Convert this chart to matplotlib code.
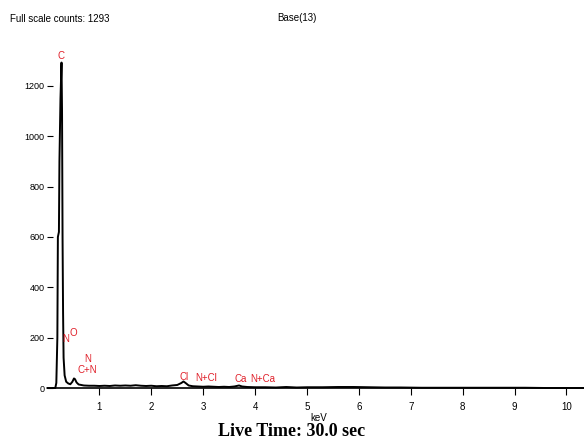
import numpy as np
import matplotlib.pyplot as plt

# EDS spectrum
energy = [0.00, 0.15, 0.17, 0.19, 0.20, 0.22, 0.23, 0.25, 0.27, 0.28, 0.29, 0.30,
          0.31, 0.33, 0.36, 0.40, 0.44, 0.48, 0.51, 0.53, 0.56, 0.60, 0.70, 0.80,
          0.90, 1.00, 1.10, 1.20, 1.30, 1.40, 1.50, 1.60, 1.70, 1.80, 1.90, 2.00,
          2.10, 2.20, 2.30, 2.40, 2.50, 2.58, 2.62, 2.66, 2.72, 2.80, 2.90, 3.00,
          3.10, 3.20, 3.30, 3.40, 3.50, 3.60, 3.69, 3.75, 3.85, 4.00, 4.20, 4.40,
          4.60, 4.80, 5.00, 5.30, 5.60, 5.90, 6.20, 6.50, 6.80, 7.20, 7.60, 8.00,
          8.40, 8.80, 9.20, 9.60, 10.35]
counts = [0, 0, 20, 200, 600, 620, 900, 1150, 1293, 1100, 600, 300,
          120, 50, 25, 18, 15, 25, 38, 35, 22, 14, 10, 9,
          9, 8, 9, 8, 10, 9, 10, 9, 11, 9, 8, 9,
          7, 8, 7, 10, 12, 20, 26, 20, 10, 7, 6, 5,
          6, 5, 4, 5, 4, 6, 10, 6, 4, 3, 3, 2,
          4, 2, 3, 3, 4, 4, 3, 2, 2, 1, 1, 1,
          1, 1, 1, 0, 0]

# peak labels (text, keV, counts)
peak_names = ['C', 'N', 'O', 'N', 'C+N', 'Cl', 'N+Cl', 'Ca', 'N+Ca']
peak_x = [0.26, 0.36, 0.49, 0.78, 0.76, 2.63, 3.05, 3.73, 4.15]
peak_y = [1320, 195, 218, 115, 72, 44, 40, 36, 36]

xticks = [1, 2, 3, 4, 5, 6, 7, 8, 9, 10]
yticks = [0, 200, 400, 600, 800, 1000, 1200]

sans = ['Liberation Sans Narrow', 'Liberation Sans', 'DejaVu Sans']

fig = plt.figure(figsize=(5.84, 4.47), dpi=100)
W, H = 584, 447
# axes placed in pixels: x=0 keV at 47.5 px, 51.9 px/keV ; y=0 at 388 px, 0.2517 px/count
x0, xr = 47.5, 51.9
y0, yr = 388, 0.2517
left_px, right_px = 53, 584
top_px = 45
xmin = (left_px - x0) / xr
xmax = (right_px - x0) / xr
ymax = (y0 - top_px) / yr
ax = fig.add_axes([left_px / W, (H - y0) / H, (right_px - left_px) / W, (y0 - top_px) / H])
ax.set_xlim(xmin, xmax)
ax.set_ylim(0, ymax)

ax.plot(energy, counts, color='black', lw=1.4, clip_on=False)

for s in ['top', 'right', 'left']:
    ax.spines[s].set_visible(False)
ax.spines['bottom'].set_linewidth(1.2)

ax.set_xticks(xticks)
ax.set_yticks(yticks)
ax.tick_params(axis='x', direction='out', length=5, width=0.8, pad=5, labelsize=7)
ax.tick_params(axis='y', direction='out', length=4, width=0.8, pad=2, labelsize=6.5)
for lab in ax.get_xticklabels() + ax.get_yticklabels():
    lab.set_family(sans)
ax.set_xlabel('keV', fontsize=7, family=sans, labelpad=1)

for name, px, py in zip(peak_names, peak_x, peak_y):
    ax.text(px, py, name, color='#e0202a', fontsize=7, family=sans,
            ha='center', va='center', clip_on=False)

fig.text(10 / W, 1 - 19 / H, 'Full scale counts: 1293', fontsize=7, family=sans,
         ha='left', va='center')
fig.text(297 / W, 1 - 18 / H, 'Base(13)', fontsize=7, family=sans,
         ha='center', va='center')
fig.text(292 / W, 1 - 432 / H, 'Live Time: 30.0 sec', fontsize=13, fontweight='bold',
         family=['Liberation Serif', 'DejaVu Serif'], ha='center', va='center')

fig.savefig('out.png', dpi=100)
